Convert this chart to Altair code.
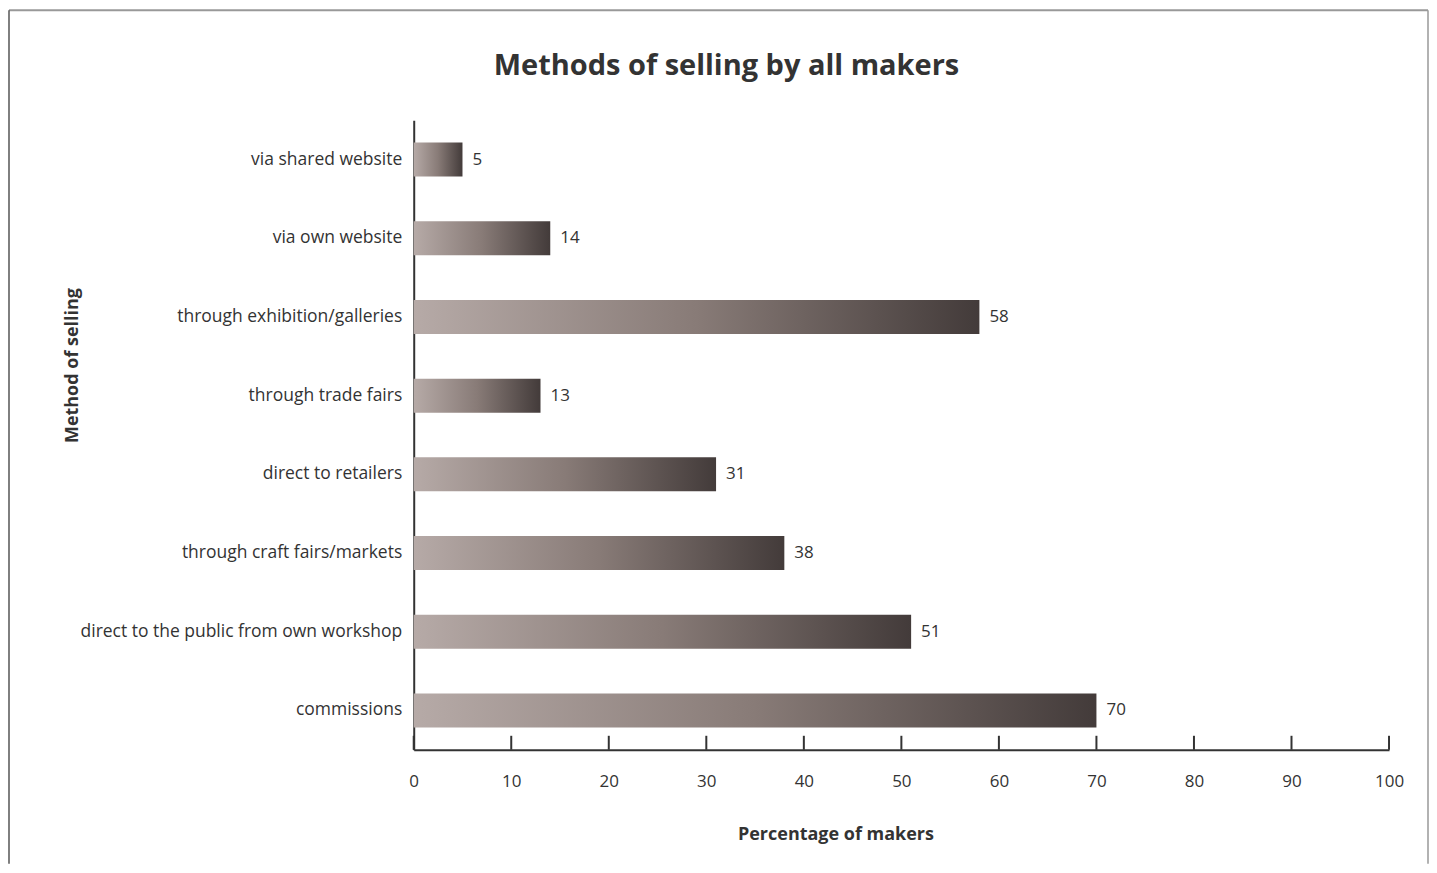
import altair as alt
import pandas as pd

methods = [
    "via shared website",
    "via own website",
    "through exhibition/galleries",
    "through trade fairs",
    "direct to retailers",
    "through craft fairs/markets",
    "direct to the public from own workshop",
    "commissions",
]
values = [5, 14, 58, 13, 31, 38, 51, 70]
tick_values = [0, 10, 20, 30, 40, 50, 60, 70, 80, 90, 100]
chart_title = ["Methods of selling by all makers"]

df = pd.DataFrame({"method": methods, "pct": values})
tick_df = pd.DataFrame({"t": tick_values})
title_df = pd.DataFrame({"title": chart_title})
one = pd.DataFrame({"a": [0]})

W, H = 976, 630
FONT = "Open Sans"
INK = "#333333"

xscale = alt.Scale(domain=[0, 100], nice=False)
yscale = alt.Scale(domain=methods, paddingInner=0, paddingOuter=0)

grad = alt.Gradient(
    gradient="linear",
    stops=[
        alt.GradientStop(color="#b6aaa7", offset=0),
        alt.GradientStop(color="#887b77", offset=0.5),
        alt.GradientStop(color="#433b3a", offset=1),
    ],
    x1=0, x2=1, y1=0, y2=0,
)

bars = alt.Chart(df).mark_bar(fill=grad, size=34).encode(
    x=alt.X(
        "pct:Q",
        scale=xscale,
        axis=alt.Axis(
            values=tick_values, ticks=False, grid=False,
            domainColor=INK, domainWidth=2,
            labelFlush=False, labelOverlap=False,
            labelPadding=24, labelFontSize=17, labelColor=INK, labelFont=FONT,
            title="Percentage of makers", titleFontSize=18, titleFontWeight="bold",
            titleColor=INK, titleFont=FONT, titleX=422, titleY=85,
            titleBaseline="middle", titleAlign="center",
        ),
    ),
    y=alt.Y(
        "method:N",
        sort=methods,
        scale=yscale,
        axis=alt.Axis(
            ticks=False, grid=False, domainColor=INK, domainWidth=2,
            labelPadding=12, labelFontSize=17.5, labelColor=INK, labelFont=FONT,
            labelLimit=500,
            title="Method of selling", titleFontSize=18, titleFontWeight="bold",
            titleColor=INK, titleFont=FONT, titleAngle=270, titleX=-341, titleY=245,
            titleBaseline="middle", titleAlign="center",
        ),
    ),
)

labels = alt.Chart(df).mark_text(
    align="left", baseline="middle", dx=10, fontSize=17, color=INK, font=FONT
).encode(
    x=alt.X("pct:Q", scale=xscale),
    y=alt.Y("method:N", sort=methods, scale=yscale),
    text="pct:Q",
)

ticks = alt.Chart(tick_df).mark_rule(color=INK, strokeWidth=2).encode(
    x=alt.X("t:Q", scale=xscale),
    y=alt.value(H - 14),
    y2=alt.value(H),
)

title = alt.Chart(title_df).mark_text(
    align="center", baseline="middle", fontSize=29, fontWeight="bold",
    color=INK, font=FONT,
).encode(x=alt.value(313), y=alt.value(-54), text="title:N")

frame_top = alt.Chart(one).mark_rule(color="#999999", strokeWidth=2).encode(
    x=alt.value(-405), x2=alt.value(1015), y=alt.value(-110)
)
frame_left = alt.Chart(one).mark_rule(color="#555555", strokeWidth=1.5).encode(
    x=alt.value(-405), y=alt.value(-110), y2=alt.value(H + 114)
)
frame_right = alt.Chart(one).mark_rule(color="#999999", strokeWidth=1.5).encode(
    x=alt.value(1015), y=alt.value(-110), y2=alt.value(H + 114)
)

chart = (
    alt.layer(frame_top, frame_left, frame_right, bars, ticks, labels, title)
    .properties(
        width=W,
        height=H,
        padding={"left": 0, "top": 1, "right": 0, "bottom": 0},
    )
    .configure_view(stroke=None)
)

chart.save("out.html", embed_options={"renderer": "svg", "actions": False})
